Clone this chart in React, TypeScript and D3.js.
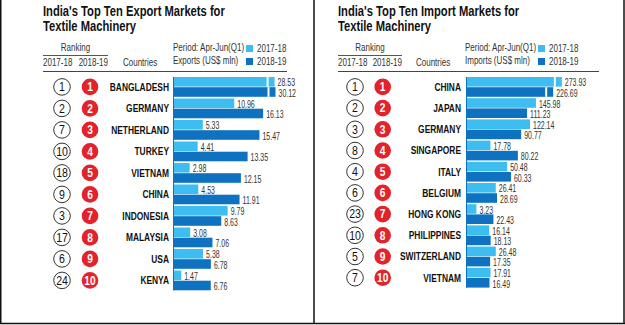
import React from "react";
import * as d3 from "d3";

const exportCountries = ["BANGLADESH", "GERMANY", "NETHERLAND", "TURKEY", "VIETNAM", "CHINA", "INDONESIA", "MALAYSIA", "USA", "KENYA"];
const exportRank1718 = [1, 2, 7, 10, 18, 9, 3, 17, 6, 24];
const exportRank1819 = [1, 2, 3, 4, 5, 6, 7, 8, 9, 10];
const exportValues1718 = [28.53, 10.96, 5.33, 4.41, 2.98, 4.53, 9.79, 3.08, 5.38, 1.47];
const exportValues1819 = [30.12, 16.13, 15.47, 13.35, 12.15, 11.91, 8.63, 7.06, 6.78, 6.76];

const importCountries = ["CHINA", "JAPAN", "GERMANY", "SINGAPORE", "ITALY", "BELGIUM", "HONG KONG", "PHILIPPINES", "SWITZERLAND", "VIETNAM"];
const importRank1718 = [1, 2, 3, 8, 4, 6, 23, 10, 5, 7];
const importRank1819 = [1, 2, 3, 4, 5, 6, 7, 8, 9, 10];
const importValues1718 = [273.93, 145.98, 122.14, 17.78, 50.48, 26.41, 3.23, 16.14, 26.48, 17.91];
const importValues1819 = [226.69, 111.23, 90.77, 80.22, 60.33, 28.69, 22.43, 18.13, 17.35, 16.49];

const seriesLabels = ["2017-18", "2018-19"];

const LIGHT = "#3dbdf0";
const DARK = "#0f72c0";
const RED = "#e3232c";
const FONT = "'Liberation Sans', Arial, sans-serif";

type TProps = {
  x: number;
  y: number;
  sx?: number;
  size: number;
  bold?: boolean;
  anchor?: "start" | "middle" | "end";
  fill?: string;
  children: React.ReactNode;
};

function T({ x, y, sx = 0.8, size, bold, anchor = "start", fill = "#333", children }: TProps) {
  return (
    <text
      transform={`translate(${x},${y}) scale(${sx},1)`}
      textAnchor={anchor}
      fontFamily={FONT}
      fontSize={size}
      fontWeight={bold ? "bold" : "normal"}
      fill={fill}
    >
      {children}
    </text>
  );
}

type PanelProps = {
  x0: number;
  title: string[];
  unitLabel: string;
  countries: string[];
  rankPrev: number[];
  rankCur: number[];
  valPrev: number[];
  valCur: number[];
  scale: (v: number) => number;
  breakAt: number;
  pitch: number;
  dx: { c1: number; c2: number; label: number; bar: number; lineEnd: number; rankLineEnd: number; countries: number; period: number; legend: number };
  clipRight: number;
  id: string;
};

function Panel(p: PanelProps) {
  const top = 77;
  const barH = 9.6;
  const rows = d3.range(p.countries.length);
  const yScale = d3.scaleLinear().domain([0, 1]).range([top, top + p.pitch]);
  const x0 = p.x0;
  const barX = x0 + p.dx.bar;
  const lastY = yScale(p.countries.length - 1) + 2 * barH + 0.6;
  return (
    <g>
      <defs>
        <clipPath id={p.id}>
          <rect x={x0 - 40} y={76} width={p.clipRight - x0 + 40} height={230} />
        </clipPath>
      </defs>
      <T x={x0} y={16} size={14} bold fill="#111">{p.title[0]}</T>
      <T x={x0} y={30.5} size={14} bold fill="#111">{p.title[1]}</T>
      <T x={x0 + p.dx.rankLineEnd / 2} y={51} size={10} anchor="middle">Ranking</T>
      <line x1={x0} x2={x0 + p.dx.rankLineEnd} y1={55.5} y2={55.5} stroke="#555" strokeWidth={1} />
      <T x={x0} y={65.5} size={10}>2017-18</T>
      <T x={x0 + p.dx.rankLineEnd} y={65.5} size={10} anchor="end">2018-19</T>
      <T x={x0 + p.dx.countries} y={65.5} size={10}>Countries</T>
      <T x={x0 + p.dx.period} y={50.5} size={10}>Period: Apr-Jun(Q1)</T>
      <T x={x0 + p.dx.period} y={64} size={10}>{p.unitLabel}</T>
      <rect x={x0 + p.dx.legend} y={45} width={7} height={7} fill={LIGHT} />
      <rect x={x0 + p.dx.legend} y={58} width={7} height={7} fill={DARK} />
      <T x={x0 + p.dx.legend + 11} y={52} size={10}>{seriesLabels[0]}</T>
      <T x={x0 + p.dx.legend + 11} y={65} size={10}>{seriesLabels[1]}</T>
      <line x1={x0} x2={x0 + p.dx.lineEnd} y1={71.5} y2={71.5} stroke="#444" strokeWidth={1} />
      {rows.map((i) => {
        const yTop = yScale(i);
        const cy = yTop + barH + 0.3;
        const w1 = p.scale(p.valPrev[i]);
        const w2 = p.scale(p.valCur[i]);
        return (
          <g key={i}>
            <circle cx={x0 + p.dx.c1} cy={cy} r={8.3} fill="#fff" stroke="#333" strokeWidth={1} />
            <T x={x0 + p.dx.c1} y={cy + 4.2} size={12} sx={0.88} anchor="middle" fill="#111">{p.rankPrev[i]}</T>
            <circle cx={x0 + p.dx.c2} cy={cy} r={8.3} fill={RED} />
            <T x={x0 + p.dx.c2} y={cy + 4.2} size={12} sx={0.85} bold anchor="middle" fill="#fff">{p.rankCur[i]}</T>
            <T x={x0 + p.dx.label} y={cy + 3.8} size={10.5} bold anchor="end" fill="#111">{p.countries[i]}</T>
            <rect x={barX} y={yTop} width={w1} height={barH} fill={LIGHT} />
            <rect x={barX} y={yTop + barH + 0.6} width={w2} height={barH} fill={DARK} />
            {p.valPrev[i] > p.breakAt && <rect x={barX + w1 - 8} y={yTop} width={2} height={barH} fill="#fff" />}
            {p.valCur[i] > p.breakAt && <rect x={barX + w2 - 8} y={yTop + barH + 0.6} width={2} height={barH} fill="#fff" />}
            <g clipPath={`url(#${p.id})`}>
              <T x={barX + w1 + 3} y={yTop + barH - 0.2} size={10} sx={0.7}>{p.valPrev[i].toFixed(2)}</T>
              <T x={barX + w2 + 3} y={yTop + 2 * barH + 0.6} size={10} sx={0.7}>{p.valCur[i].toFixed(2)}</T>
            </g>
          </g>
        );
      })}
      <line x1={barX + 0.5} x2={barX + 0.5} y1={top} y2={lastY} stroke={DARK} strokeWidth={1} />
    </g>
  );
}

export default function App() {
  const exportScale = d3.scaleLinear().domain([0, 17, 31]).range([0, 95, 103]);
  const importScale = d3.scaleSqrt().domain([0, 100]).range([0, 57.9]);
  return (
    <svg width={625} height={325} style={{ position: "absolute", left: 0, top: 0, background: "#fff" }}>
      <rect x={0} y={0} width={625} height={325} fill="#fff" />
      <Panel
        id="clipE"
        x0={43}
        title={["India's Top Ten Export Markets for", "Textile Machinery"]}
        unitLabel="Exports (US$ mln)"
        countries={exportCountries}
        rankPrev={exportRank1718}
        rankCur={exportRank1819}
        valPrev={exportValues1718}
        valCur={exportValues1819}
        scale={(v) => exportScale(v)}
        breakAt={17}
        pitch={21.5}
        dx={{ c1: 19, c2: 47, label: 126, bar: 130, lineEnd: 244, rankLineEnd: 65, countries: 80, period: 130, legend: 203 }}
        clipRight={312}
      />
      <Panel
        id="clipI"
        x0={338}
        title={["India's Top Ten Import Markets for", "Textile Machinery"]}
        unitLabel="Imports (US$ mln)"
        countries={importCountries}
        rankPrev={importRank1718}
        rankCur={importRank1819}
        valPrev={importValues1718}
        valCur={importValues1819}
        scale={(v) => importScale(v)}
        breakAt={200}
        pitch={21.2}
        dx={{ c1: 17, c2: 44.7, label: 123, bar: 128, lineEnd: 261, rankLineEnd: 64, countries: 78, period: 127, legend: 200 }}
        clipRight={591}
      />
      <line x1={0.75} x2={0.75} y1={0} y2={324} stroke="#111" strokeWidth={1.5} />
      <line x1={314} x2={314} y1={0} y2={324} stroke="#111" strokeWidth={1.5} />
      <line x1={624} x2={624} y1={0} y2={324} stroke="#111" strokeWidth={1.5} />
      <line x1={0} x2={625} y1={323.5} y2={323.5} stroke="#111" strokeWidth={1.5} />
    </svg>
  );
}
